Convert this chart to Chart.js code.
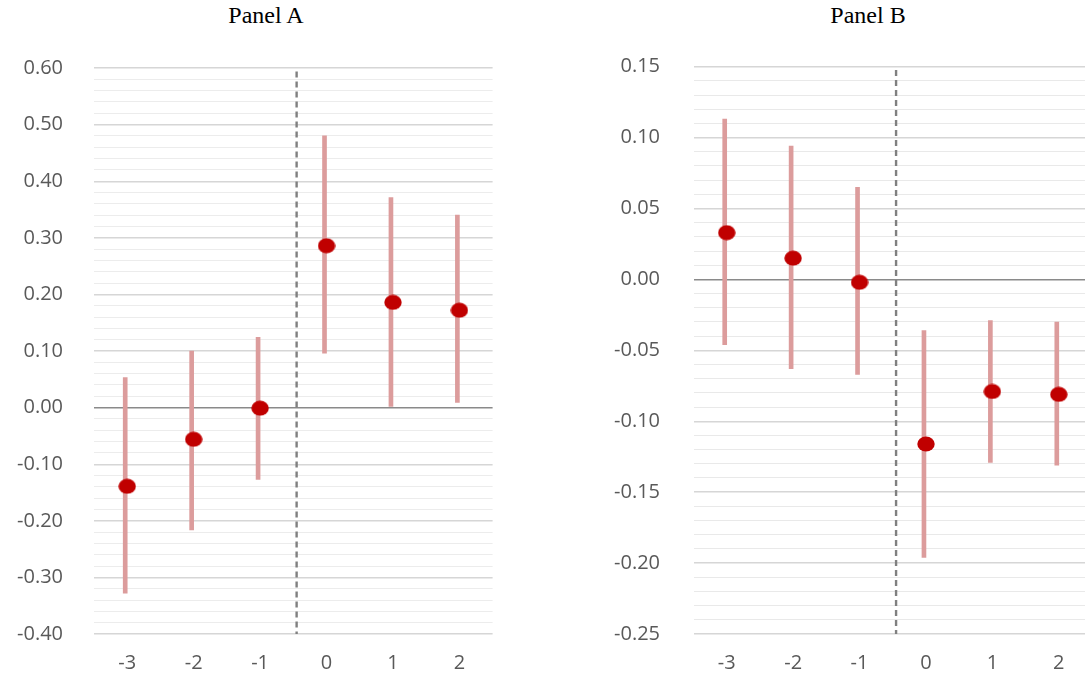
<!DOCTYPE html>
<html><head><meta charset="utf-8">
<script src="https://cdn.jsdelivr.net/npm/chart.js@4.4.1/dist/chart.umd.min.js"></script>
<style>
html,body{margin:0;padding:0;background:#fff;overflow:hidden;width:1085px;height:679px;}
#wrap{position:relative;width:1085px;height:679px;overflow:hidden;}
canvas{position:absolute;top:0;}
.title{position:absolute;top:2px;font-family:"Liberation Serif","Times New Roman",serif;font-size:24px;color:#000;transform:translateX(-50%);white-space:nowrap;}
</style></head><body>
<div id="wrap">
<div class="title" style="left:266px">Panel A</div>
<div class="title" style="left:868px">Panel B</div>
<canvas id="cA" width="520" height="679" style="left:0"></canvas>
<canvas id="cB" width="560" height="679" style="left:560px"></canvas>
</div>
<script>
// ---- data ----
const categories = ['-3', '-2', '-1', '0', '1', '2'];

const panelA_estimate = [-0.139, -0.056, -0.001, 0.286, 0.186, 0.172];
const panelA_low      = [-0.328, -0.216, -0.127, 0.096, 0.002, 0.009];
const panelA_high     = [0.053, 0.100, 0.124, 0.480, 0.371, 0.340];

const panelB_estimate = [0.033, 0.015, -0.002, -0.116, -0.079, -0.081];
const panelB_low      = [-0.046, -0.063, -0.067, -0.196, -0.129, -0.131];
const panelB_high     = [0.113, 0.094, 0.065, -0.036, -0.029, -0.030];

const panelA_yMin = -0.40, panelA_yMax = 0.60, panelA_step = 0.02, panelA_major = 0.10;
const panelB_yMin = -0.25, panelB_yMax = 0.15, panelB_step = 0.01, panelB_major = 0.05;

const treatmentLine = -0.45; // dashed vertical separator (between -1 and 0)

// ---- styles ----
const TICK_FONT = {family: '"Open Sans", "Noto Sans", sans-serif', size: 20};
const TICK_COLOR = '#595959';

function ellipseMarker() {
  const c = document.createElement('canvas');
  c.width = 18; c.height = 16;
  const g = c.getContext('2d');
  g.fillStyle = '#c00000';
  g.beginPath();
  g.ellipse(9, 8, 8.7, 7.6, 0, 0, Math.PI * 2);
  g.fill();
  return c;
}
const marker = ellipseMarker();

function isMajor(v, major) {
  const r = v / major;
  return Math.abs(r - Math.round(r)) < 1e-6;
}

function makeChart(id, est, low, high, yMin, yMax, step, major, yWidth, labelPad, padRight, padTop, minorColor) {
  const bars = low.map((l, i) => [l, high[i]]);
  return new Chart(document.getElementById(id), {
    data: {
      labels: categories,
      datasets: [
        {
          type: 'line',
          data: est,
          showLine: false,
          pointStyle: marker,
          pointRadius: 8,
          order: 0
        },
        {
          type: 'bar',
          data: bars,
          backgroundColor: '#dc9c9c',
          borderWidth: 0,
          barThickness: 4,
          order: 1
        },
        {
          type: 'line',
          xAxisID: 'x2',
          data: [{x: treatmentLine, y: yMax - (yMax - yMin) * 0.006}, {x: treatmentLine, y: yMin}],
          borderColor: '#808080',
          borderWidth: 2.4,
          borderDash: [6, 4],
          pointRadius: 0,
          order: 2
        }
      ]
    },
    options: {
      responsive: false,
      animation: false,
      devicePixelRatio: 1,
      events: [],
      layout: {padding: {left: 0, right: padRight, top: padTop, bottom: 0}},
      plugins: {legend: {display: false}, tooltip: {enabled: false}, title: {display: false}},
      scales: {
        x: {
          type: 'category',
          offset: true,
          grid: {display: false, drawTicks: false},
          border: {display: false},
          ticks: {font: TICK_FONT, color: TICK_COLOR, padding: 17, maxRotation: 0},
          afterFit: s => { s.height = 679 - 634; s.paddingLeft = 0; s.paddingRight = 0; }
        },
        x2: {
          type: 'linear',
          display: false,
          min: -3.5,
          max: 2.5
        },
        y: {
          min: yMin,
          max: yMax,
          grid: {
            drawTicks: false,
            color: c => {
              const v = c.tick.value;
              if (Math.abs(v) < 1e-9) return '#8a8a8a';
              return isMajor(v, major) ? '#d6d6d6' : minorColor;
            },
            lineWidth: c => {
              const v = c.tick.value;
              if (Math.abs(v) < 1e-9) return 1.5;
              return isMajor(v, major) ? 1.4 : 1;
            }
          },
          border: {display: false},
          ticks: {
            stepSize: step,
            autoSkip: false,
            font: TICK_FONT,
            color: TICK_COLOR,
            padding: labelPad,
            callback: v => isMajor(v, major) ? (Math.abs(v) < 1e-9 ? '0.00' : v.toFixed(2)) : ''
          },
          afterFit: s => { s.width = yWidth; s.paddingTop = 0; s.paddingBottom = 0; }
        }
      }
    }
  });
}

makeChart('cA', panelA_estimate, panelA_low, panelA_high,
  panelA_yMin, panelA_yMax, panelA_step, panelA_major, 94, 31, 27.4, 68, '#ececec');
makeChart('cB', panelB_estimate, panelB_low, panelB_high,
  panelB_yMin, panelB_yMax, panelB_step, panelB_major, 133.5, 33.5, 28, 66.7, '#e9e9e9');
</script>
</body></html>
